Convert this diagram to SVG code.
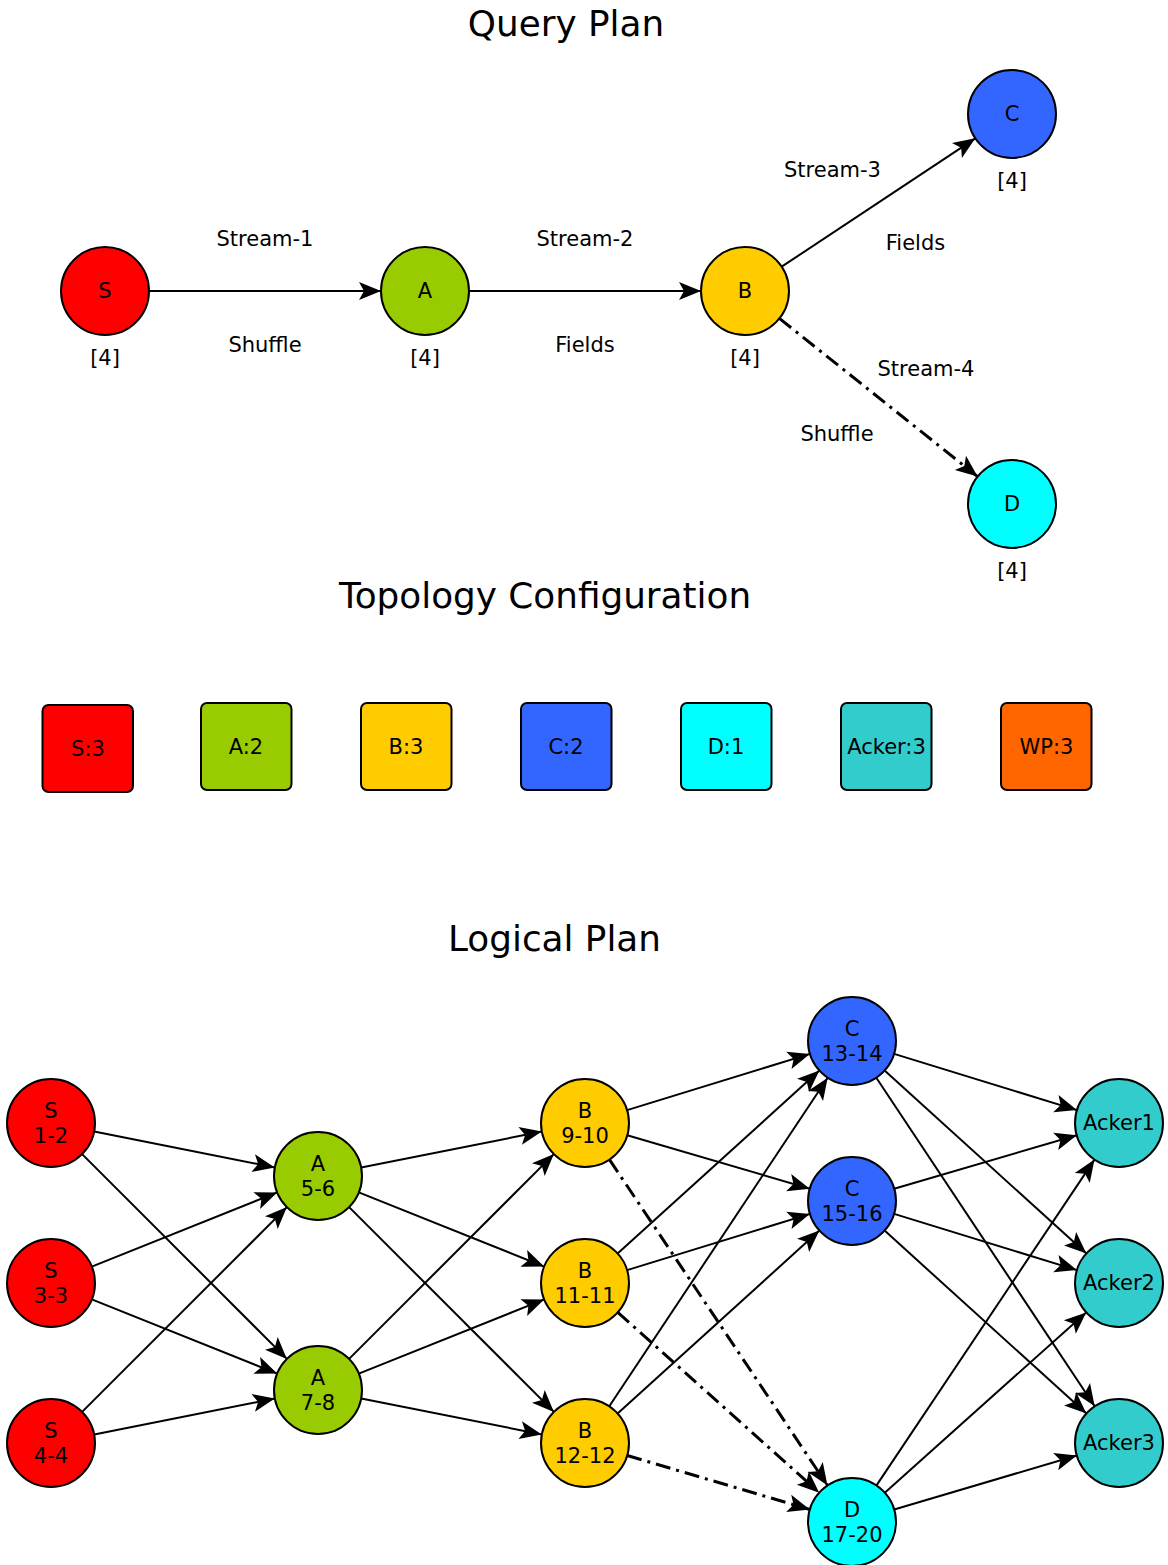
<svg xmlns="http://www.w3.org/2000/svg" width="1168" height="1565" viewBox="0 0 1168 1565">
<style>
text{font-family:"DejaVu Sans","Liberation Sans",sans-serif;fill:#000;text-anchor:middle}
.title{font-size:35.8px}
.lbl{font-size:21px}
.node{stroke:#000;stroke-width:2}
.e{stroke:#000;stroke-width:2;fill:none;marker-end:url(#ah)}
.dd{stroke:#000;stroke-width:3;fill:none;stroke-dasharray:15 6 3 6;marker-end:url(#ah)}
.S{fill:#ff0000}.A{fill:#99cc00}.B{fill:#ffcc00}.C{fill:#3366ff}.D{fill:#00ffff}.K{fill:#33cccc}.W{fill:#ff6600}
</style>
<defs>
<marker id="ah" viewBox="-23 -10 24 20" refX="0" refY="0" markerWidth="24" markerHeight="20" markerUnits="userSpaceOnUse" orient="auto">
<path d="M0,0 L-22,-9 L-17,0 L-22,9 Z" fill="#000"/>
</marker>
</defs>
<rect width="1168" height="1565" fill="#fff"/>

<text class="title" x="566" y="36">Query Plan</text>
<text class="title" x="545" y="607.5">Topology Configuration</text>
<text class="title" x="554.5" y="950.5">Logical Plan</text>

<g id="connectors">
<line class="e" x1="149" y1="291" x2="381" y2="291"/>
<line class="e" x1="469" y1="291" x2="701" y2="291"/>
<line class="e" x1="781.7" y1="266.7" x2="975.3" y2="138.3"/>
<line class="dd" x1="779.4" y1="318.4" x2="977.6" y2="476.6"/>

<line class="e" x1="94.2" y1="1131.6" x2="274.8" y2="1167.4"/>
<line class="e" x1="82.1" y1="1154.1" x2="286.9" y2="1358.9"/>
<line class="e" x1="91.8" y1="1266.6" x2="277.2" y2="1192.4"/>
<line class="e" x1="91.8" y1="1299.4" x2="277.2" y2="1373.6"/>
<line class="e" x1="82.1" y1="1411.9" x2="286.9" y2="1207.1"/>
<line class="e" x1="94.2" y1="1434.4" x2="274.8" y2="1398.6"/>

<line class="e" x1="361.2" y1="1167.4" x2="541.8" y2="1131.6"/>
<line class="e" x1="358.8" y1="1192.4" x2="544.2" y2="1266.6"/>
<line class="e" x1="349.1" y1="1207.1" x2="553.9" y2="1411.9"/>
<line class="e" x1="349.1" y1="1358.9" x2="553.9" y2="1154.1"/>
<line class="e" x1="358.8" y1="1373.6" x2="544.2" y2="1299.4"/>
<line class="e" x1="361.2" y1="1398.6" x2="541.8" y2="1434.4"/>

<line class="e" x1="627.1" y1="1110.1" x2="809.9" y2="1053.9"/>
<line class="e" x1="627.2" y1="1135.3" x2="809.8" y2="1188.7"/>
<line class="dd" x1="609.5" y1="1159.6" x2="827.5" y2="1485.4"/>
<line class="e" x1="617.6" y1="1253.5" x2="819.4" y2="1070.6"/>
<line class="e" x1="627.1" y1="1270.1" x2="809.9" y2="1213.9"/>
<line class="dd" x1="617.8" y1="1312.4" x2="819.2" y2="1492.7"/>
<line class="e" x1="609.3" y1="1406.3" x2="827.7" y2="1077.7"/>
<line class="e" x1="617.6" y1="1413.5" x2="819.4" y2="1230.6"/>
<line class="dd" x1="627.2" y1="1455.5" x2="809.8" y2="1509.5"/>

<line class="e" x1="894.1" y1="1053.9" x2="1076.9" y2="1110.1"/>
<line class="e" x1="884.6" y1="1070.6" x2="1086.4" y2="1253.5"/>
<line class="e" x1="876.3" y1="1077.7" x2="1094.7" y2="1406.3"/>
<line class="e" x1="894.2" y1="1188.7" x2="1076.8" y2="1135.3"/>
<line class="e" x1="894.1" y1="1213.9" x2="1076.9" y2="1270.1"/>
<line class="e" x1="884.6" y1="1230.6" x2="1086.4" y2="1413.5"/>
<line class="e" x1="876.5" y1="1485.4" x2="1094.5" y2="1159.6"/>
<line class="e" x1="884.8" y1="1492.7" x2="1086.2" y2="1312.4"/>
<line class="e" x1="894.2" y1="1509.5" x2="1076.8" y2="1455.5"/>
</g>

<g id="edge-labels">
<text class="lbl" x="265" y="245.5">Stream-1</text>
<text class="lbl" x="265" y="352">Shuffle</text>
<text class="lbl" x="585" y="245.5">Stream-2</text>
<text class="lbl" x="585" y="352">Fields</text>
<text class="lbl" x="832.5" y="176.5">Stream-3</text>
<text class="lbl" x="915.5" y="250">Fields</text>
<text class="lbl" x="926" y="375.5">Stream-4</text>
<text class="lbl" x="837" y="440.5">Shuffle</text>
</g>

<g id="q-S"><circle class="node S" cx="105" cy="291" r="44"/><text class="lbl" x="105" y="298">S</text><text class="lbl" x="105" y="365">[4]</text></g>
<g id="q-A"><circle class="node A" cx="425" cy="291" r="44"/><text class="lbl" x="425" y="298">A</text><text class="lbl" x="425" y="365">[4]</text></g>
<g id="q-B"><circle class="node B" cx="745" cy="291" r="44"/><text class="lbl" x="745" y="298">B</text><text class="lbl" x="745" y="365">[4]</text></g>
<g id="q-C"><circle class="node C" cx="1012" cy="114" r="44"/><text class="lbl" x="1012" y="121">C</text><text class="lbl" x="1012" y="188">[4]</text></g>
<g id="q-D"><circle class="node D" cx="1012" cy="504" r="44"/><text class="lbl" x="1012" y="511">D</text><text class="lbl" x="1012" y="578">[4]</text></g>

<g id="t-S"><rect class="node S" x="42.5" y="705" width="90.5" height="87" rx="6"/><text class="lbl" x="88" y="756">S:3</text></g>
<g id="t-A"><rect class="node A" x="201" y="703" width="90.5" height="87" rx="6"/><text class="lbl" x="246" y="754">A:2</text></g>
<g id="t-B"><rect class="node B" x="361" y="703" width="90.5" height="87" rx="6"/><text class="lbl" x="406" y="754">B:3</text></g>
<g id="t-C"><rect class="node C" x="521" y="703" width="90.5" height="87" rx="6"/><text class="lbl" x="566" y="754">C:2</text></g>
<g id="t-D"><rect class="node D" x="681" y="703" width="90.5" height="87" rx="6"/><text class="lbl" x="726" y="754">D:1</text></g>
<g id="t-Acker"><rect class="node K" x="841" y="703" width="90.5" height="87" rx="6"/><text class="lbl" x="886.5" y="754">Acker:3</text></g>
<g id="t-WP"><rect class="node W" x="1001" y="703" width="90.5" height="87" rx="6"/><text class="lbl" x="1046.5" y="754">WP:3</text></g>

<g id="l-S1"><circle class="node S" cx="51" cy="1123" r="44"/><text class="lbl" x="51" y="1118">S</text><text class="lbl" x="51" y="1142.5">1-2</text></g>
<g id="l-S3"><circle class="node S" cx="51" cy="1283" r="44"/><text class="lbl" x="51" y="1278">S</text><text class="lbl" x="51" y="1302.5">3-3</text></g>
<g id="l-S4"><circle class="node S" cx="51" cy="1443" r="44"/><text class="lbl" x="51" y="1438">S</text><text class="lbl" x="51" y="1462.5">4-4</text></g>
<g id="l-A5"><circle class="node A" cx="318" cy="1176" r="44"/><text class="lbl" x="318" y="1171">A</text><text class="lbl" x="318" y="1195.5">5-6</text></g>
<g id="l-A7"><circle class="node A" cx="318" cy="1390" r="44"/><text class="lbl" x="318" y="1385">A</text><text class="lbl" x="318" y="1409.5">7-8</text></g>
<g id="l-B9"><circle class="node B" cx="585" cy="1123" r="44"/><text class="lbl" x="585" y="1118">B</text><text class="lbl" x="585" y="1142.5">9-10</text></g>
<g id="l-B11"><circle class="node B" cx="585" cy="1283" r="44"/><text class="lbl" x="585" y="1278">B</text><text class="lbl" x="585" y="1302.5">11-11</text></g>
<g id="l-B12"><circle class="node B" cx="585" cy="1443" r="44"/><text class="lbl" x="585" y="1438">B</text><text class="lbl" x="585" y="1462.5">12-12</text></g>
<g id="l-C13"><circle class="node C" cx="852" cy="1041" r="44"/><text class="lbl" x="852" y="1036">C</text><text class="lbl" x="852" y="1060.5">13-14</text></g>
<g id="l-C15"><circle class="node C" cx="852" cy="1201" r="44"/><text class="lbl" x="852" y="1196">C</text><text class="lbl" x="852" y="1220.5">15-16</text></g>
<g id="l-D"><circle class="node D" cx="852" cy="1522" r="44"/><text class="lbl" x="852" y="1517">D</text><text class="lbl" x="852" y="1541.5">17-20</text></g>
<g id="l-K1"><circle class="node K" cx="1119" cy="1123" r="44"/><text class="lbl" x="1119" y="1130">Acker1</text></g>
<g id="l-K2"><circle class="node K" cx="1119" cy="1283" r="44"/><text class="lbl" x="1119" y="1290">Acker2</text></g>
<g id="l-K3"><circle class="node K" cx="1119" cy="1443" r="44"/><text class="lbl" x="1119" y="1450">Acker3</text></g>
</svg>
